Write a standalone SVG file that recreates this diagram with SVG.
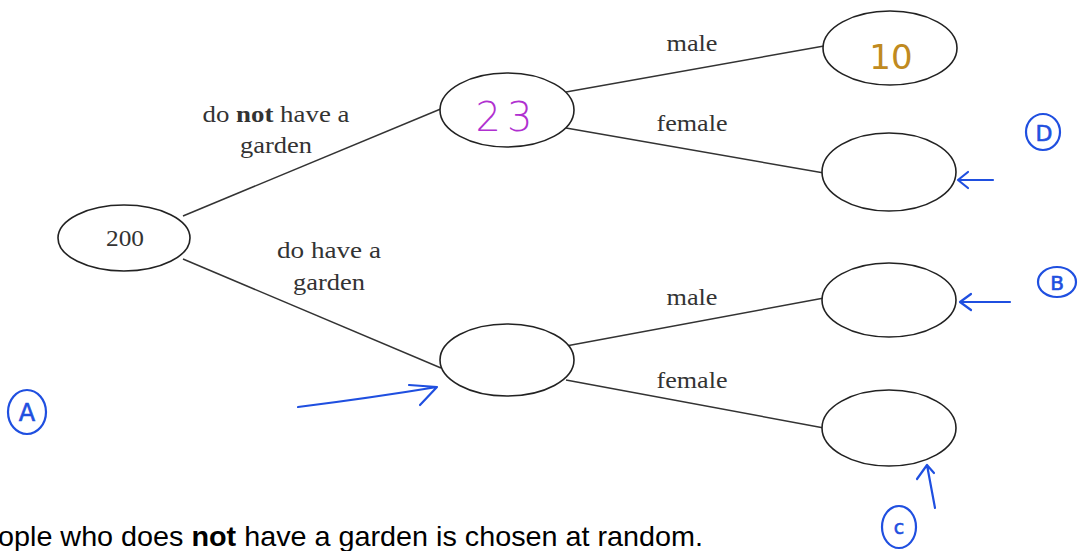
<svg xmlns="http://www.w3.org/2000/svg" width="1078" height="551" viewBox="0 0 1078 551">
<style>
.node{fill:#fff;stroke:#222;stroke-width:1.6}
.edge{stroke:#333;stroke-width:1.5;fill:none}
.lbl{font-family:"Liberation Serif","Times New Roman",serif;font-size:24px;fill:#333;text-anchor:middle}
.hand{stroke:#1f4fe0;stroke-width:2.2;fill:none;stroke-linecap:round;stroke-linejoin:round}
.handtxt{font-family:"DejaVu Sans","Liberation Sans",sans-serif;fill:#1f4fe0;text-anchor:middle;stroke:#1f4fe0;stroke-width:0.6}
.body{font-family:"Liberation Sans",Arial,sans-serif;font-size:28px;fill:#000}
</style>
<rect width="1078" height="551" fill="#fff"/>
<g id="connectors">
<line class="edge" x1="183" y1="216" x2="443" y2="108"/>
<line class="edge" x1="183" y1="259" x2="441" y2="368"/>
<line class="edge" x1="566" y1="92" x2="824" y2="46"/>
<line class="edge" x1="566" y1="128" x2="824" y2="173"/>
<line class="edge" x1="566" y1="346" x2="824" y2="298"/>
<line class="edge" x1="566" y1="380" x2="824" y2="428"/>
</g>
<g id="edge-labels">
<text class="lbl" x="276" y="122" textLength="147" lengthAdjust="spacingAndGlyphs">do <tspan font-weight="bold">not</tspan> have a</text>
<text class="lbl" x="276" y="153" textLength="72" lengthAdjust="spacingAndGlyphs">garden</text>
<text class="lbl" x="329" y="258" textLength="104" lengthAdjust="spacingAndGlyphs">do have a</text>
<text class="lbl" x="329" y="290" textLength="72" lengthAdjust="spacingAndGlyphs">garden</text>
<text class="lbl" x="692" y="51" textLength="51" lengthAdjust="spacingAndGlyphs">male</text>
<text class="lbl" x="692" y="131" textLength="71" lengthAdjust="spacingAndGlyphs">female</text>
<text class="lbl" x="692" y="305" textLength="51" lengthAdjust="spacingAndGlyphs">male</text>
<text class="lbl" x="692" y="388" textLength="71" lengthAdjust="spacingAndGlyphs">female</text>
</g>
<g id="root">
<ellipse class="node" cx="124" cy="238" rx="66" ry="33"/>
<text class="lbl" x="125" y="246" textLength="38" lengthAdjust="spacingAndGlyphs">200</text>
</g>
<g id="no-garden">
<ellipse class="node" cx="507" cy="110" rx="67" ry="37"/>
<text x="507" y="131" font-family="DejaVu Sans,sans-serif" font-size="40" font-weight="300" fill="#b030d0" text-anchor="middle" letter-spacing="6">23</text>
</g>
<g id="garden">
<ellipse class="node" cx="507" cy="360" rx="67" ry="36"/>
</g>
<g id="no-garden-male">
<ellipse class="node" cx="890" cy="48" rx="67" ry="37"/>
<text x="891" y="69" font-family="DejaVu Sans,sans-serif" font-size="34" fill="#c08a20" text-anchor="middle">10</text>
</g>
<g id="no-garden-female">
<ellipse class="node" cx="889" cy="172" rx="67" ry="39"/>
</g>
<g id="garden-male">
<ellipse class="node" cx="889" cy="300" rx="67" ry="37"/>
</g>
<g id="garden-female">
<ellipse class="node" cx="889" cy="428" rx="67" ry="38"/>
</g>
<g id="annotations">
<ellipse class="hand" cx="27" cy="412" rx="19" ry="22"/>
<text class="handtxt" x="27" y="421" font-size="24">A</text>
<ellipse class="hand" cx="1043" cy="132" rx="17" ry="18"/>
<text class="handtxt" x="1044" y="141" font-size="22">D</text>
<ellipse class="hand" cx="1057" cy="282" rx="19" ry="15"/>
<text class="handtxt" x="1057" y="290" font-size="20">B</text>
<ellipse class="hand" cx="899" cy="527" rx="17" ry="21"/>
<text class="handtxt" x="899" y="534" font-size="19">c</text>
<path class="hand" d="M993 180 L958 180 M968 172 L958 180 L968 188"/>
<path class="hand" d="M1010 302 L960 302 M971 294 L960 302 L971 310"/>
<path class="hand" d="M935 508 L927 465 M917 479 L927 465 L934 473"/>
<path class="hand" d="M298 407 Q370 398 437 387 M409 385 L437 387 L420 405"/>
</g>
<text class="body" x="-2" y="546" textLength="705" lengthAdjust="spacingAndGlyphs">ople who does <tspan font-weight="bold">not</tspan> have a garden is chosen at random.</text>
</svg>
